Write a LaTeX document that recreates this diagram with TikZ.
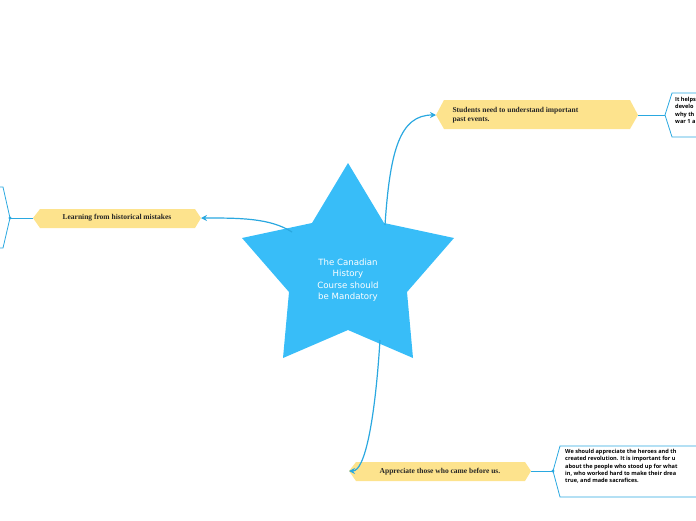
\documentclass[tikz,border=0pt]{standalone}
\usepackage{fontspec}
\setmainfont{Liberation Serif}
\newfontfamily\sansf{Open Sans}
\newfontfamily\starf{DejaVu Sans}
\usetikzlibrary{arrows.meta}
\definecolor{sky}{HTML}{38BDF8}
\definecolor{lineb}{HTML}{2AA8E0}
\definecolor{ylw}{HTML}{FDE38D}
\begin{document}
\begin{tikzpicture}[x=1pt,y=-1pt,
  topic/.style={fill=ylw,draw=none},
  conn/.style={draw=lineb,line width=1.2pt,-{Stealth[length=6pt,width=6pt]}},
  thin/.style={draw=lineb,line width=0.8pt},
  ytext/.style={font=\bfseries\fontsize{7.5}{9}\selectfont,text=black!85,align=left,anchor=west},
  btext/.style={font=\sansf\bfseries\fontsize{5.6}{7.3}\selectfont,align=left,anchor=north west,inner sep=0pt}]
\useasboundingbox (0,0) rectangle (696,520);
\clip (0,0) rectangle (696,520);
% star
\fill[sky] (348,163) -- (384,223) -- (454,238) -- (407,292) -- (413,358) -- (348,330) -- (283,358) -- (289,292) -- (242,238) -- (312,223) -- cycle;
\node[font=\starf\fontsize{8.6}{11.5}\selectfont,text=white,align=center] (c) at (348,280) {The Canadian\\History\\Course should\\be Mandatory};
\coordinate (s1) at (385,225);
\coordinate (s2) at (292,232);
\coordinate (s3) at (380,340);
% topic 1
\fill[topic] (436,115) -- (444,100) -- (630,100) -- (638,115) -- (630,129) -- (444,129) -- cycle;
\coordinate (t1) at (436,115);
\node[ytext] (n1) at (449,115) {Students need to understand important\\past events.};
% topic 2
\fill[topic] (33,218) -- (40,209) -- (195,209) -- (201,218) -- (195,228) -- (40,228) -- cycle;
\coordinate (t2) at (201,218);
\node[ytext,anchor=center] (n2) at (117,218) {Learning from historical mistakes};
% topic 3
\fill[topic] (349,471) -- (356,462) -- (525,462) -- (531,471) -- (525,481) -- (356,481) -- cycle;
\coordinate (t3) at (349,471);
\node[ytext,anchor=center] (n3) at (440,472) {Appreciate those who came before us.};
\draw[conn] (s1) .. controls (390,150) and (400,115) .. (t1);
\draw[conn] (s2) .. controls (270,218) and (240,218) .. (t2);
\draw[conn] (s3) .. controls (375,420) and (365,471) .. (t3);
% right box 1
\coordinate (p1) at (638,115);
\coordinate (b1) at (665,115);
\draw[thin] (p1) -- (b1);
\draw[thin] (700,93) -- (672,93) -- (665,115) -- (672,137) -- (700,137);
\node[btext] (bt1) at (675,97) {It helps\\develo\\why th\\war 1 a};
% right box 2
\coordinate (p3) at (531,471);
\coordinate (b3) at (553,471);
\draw[thin] (p3) -- (b3);
\fill[lineb] (b3) circle (1.6);
\draw[thin] (700,446) -- (560,446) -- (553,471) -- (560,497) -- (700,497);
\node[btext] (bt3) at (565,449) {We should appreciate the heroes and th\\created revolution. It is important for u\\about the people who stood up for what\\in, who worked hard to make their drea\\true, and made sacrafices.};
% left box
\coordinate (p2) at (33,218);
\coordinate (b2) at (10,218);
\draw[thin] (p2) -- (b2);
\fill[lineb] (b2) circle (1.6);
\draw[thin] (-5,187) -- (3,187) -- (10,218) -- (3,248) -- (-5,248);
\end{tikzpicture}
\end{document}
